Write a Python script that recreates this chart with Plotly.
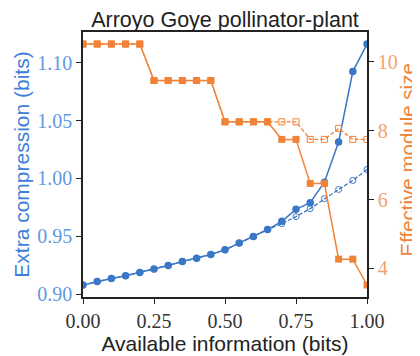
import plotly.graph_objects as go

# available information (bits)
info = [0.00, 0.05, 0.10, 0.15, 0.20, 0.25, 0.30, 0.35, 0.40, 0.45, 0.50,
        0.55, 0.60, 0.65, 0.70, 0.75, 0.80, 0.85, 0.90, 0.95, 1.00]

# extra compression (bits)
compression = [0.9078, 0.9109, 0.9135, 0.9158, 0.9187, 0.9216, 0.9247, 0.9282,
               0.9310, 0.9342, 0.9382, 0.9442, 0.9497, 0.9558, 0.9629, 0.9733,
               0.9790, 0.9968, 1.0316, 1.0925, 1.1164]
compression_alt = [0.9078, 0.9109, 0.9135, 0.9158, 0.9187, 0.9216, 0.9247, 0.9282,
                   0.9310, 0.9342, 0.9382, 0.9442, 0.9497, 0.9558, 0.9609, 0.9670,
                   0.9739, 0.9825, 0.9905, 0.9983, 1.0078]

# effective module size
module_size = [10.52, 10.52, 10.52, 10.52, 10.52, 9.46, 9.46, 9.46, 9.46, 9.46,
               8.26, 8.26, 8.26, 8.26, 7.75, 7.75, 6.47, 6.47, 4.27, 4.27, 3.52]
module_size_alt = [10.52, 10.52, 10.52, 10.52, 10.52, 9.46, 9.46, 9.46, 9.46, 9.46,
                   8.26, 8.26, 8.26, 8.26, 8.26, 8.26, 7.75, 7.75, 8.07, 7.75, 7.75]

BLUE = '#3a77c6'
BLUE_TXT = '#3d7fd6'
BLUE_TICK = '#6198de'
ORANGE = '#f08338'
ORANGE_TXT = '#f08338'
ORANGE_TICK = '#f4a26c'

SANS = 'Liberation Sans, Arial, sans-serif'
SERIF = 'Liberation Serif, Times New Roman, serif'

fig = go.Figure()

fig.add_trace(go.Scatter(
    x=info, y=compression_alt, mode='lines+markers',
    line=dict(color=BLUE, width=1.3, dash='4px,2px'),
    marker=dict(symbol='circle-open', size=6, color=BLUE, line=dict(width=1)),
))
fig.add_trace(go.Scatter(
    x=info, y=compression, mode='lines+markers',
    line=dict(color=BLUE, width=1.5),
    marker=dict(symbol='circle', size=7.5, color=BLUE),
))
fig.add_trace(go.Scatter(
    x=info, y=module_size_alt, mode='lines+markers', yaxis='y2',
    line=dict(color=ORANGE, width=1.3, dash='4px,2px'),
    marker=dict(symbol='square-open', size=6, color=ORANGE, line=dict(width=1)),
))
fig.add_trace(go.Scatter(
    x=info, y=module_size, mode='lines+markers', yaxis='y2',
    line=dict(color=ORANGE, width=1.5),
    marker=dict(symbol='square', size=7, color=ORANGE),
))

# right axis title as an annotation so it sits just inside the page edge
fig.add_annotation(
    text='Effective module size', textangle=-90,
    xref='paper', yref='paper', x=1, y=0.515,
    xanchor='center', yanchor='middle', xshift=41, showarrow=False,
    font=dict(family=SANS, size=20.5, color=ORANGE_TXT),
)

# the page body has an 8px margin, so the figure is 8px smaller than the window
fig.update_layout(
    width=412, height=348,
    margin=dict(l=75, r=53, t=24, b=59),
    paper_bgcolor='white', plot_bgcolor='white',
    showlegend=False,
    title=dict(text='Arroyo Goye pollinator-plant', x=0.5, xref='paper',
               xanchor='center', y=1, yref='paper', yanchor='bottom',
               pad=dict(b=5), font=dict(family=SANS, size=21.5, color='#222')),
    xaxis=dict(
        range=[0, 1], tickvals=[0, 0.25, 0.5, 0.75, 1.0],
        ticktext=['0.00', '0.25', '0.50', '0.75', '1.00'],
        showgrid=False, zeroline=False, automargin=False,
        showline=True, linecolor='#222', linewidth=1.5, mirror=True,
        ticks='outside', ticklen=5, tickcolor='#222',
        tickfont=dict(family=SERIF, size=20, color='#333'),
        title=dict(text='Available information (bits)', standoff=2,
                   font=dict(family=SANS, size=21, color='#222')),
    ),
    yaxis=dict(
        range=[0.8974, 1.1268], tickvals=[0.90, 0.95, 1.00, 1.05, 1.10],
        ticktext=['0.90', '0.95', '1.00', '1.05', '1.10'],
        showgrid=False, zeroline=False, automargin=False,
        showline=True, linecolor='#222', linewidth=1.5,
        ticks='outside', ticklen=5, tickcolor='#222',
        tickfont=dict(family=SERIF, size=20, color=BLUE_TICK),
        title=dict(text='Extra compression (bits)', standoff=2,
                   font=dict(family=SANS, size=21, color=BLUE_TXT)),
    ),
    yaxis2=dict(
        range=[3.17, 10.87], tickvals=[4, 6, 8, 10],
        overlaying='y', side='right',
        showgrid=False, zeroline=False, automargin=False,
        showline=True, linecolor='#222', linewidth=1.5,
        ticks='outside', ticklen=5, tickcolor='#222',
        tickfont=dict(family=SERIF, size=20, color=ORANGE_TICK),
    ),
)

fig.write_html('out.html')
